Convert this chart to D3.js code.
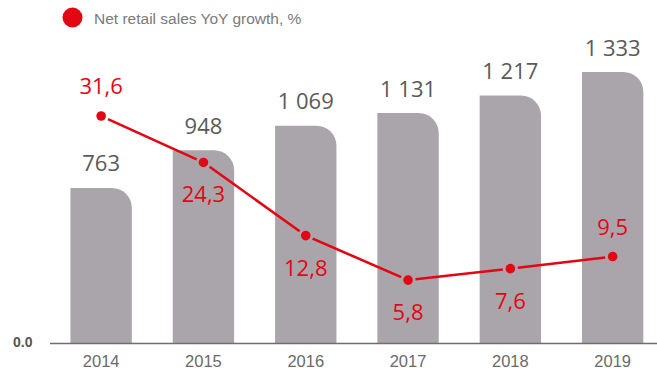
<!DOCTYPE html>
<html>
<head>
<meta charset="utf-8">
<script src="https://cdn.jsdelivr.net/npm/d3@7"></script>
<style>
  html, body { margin: 0; padding: 0; background: #fff; }
  svg { display: block; }
</style>
</head>
<body>
<svg id="chart" width="657" height="374"></svg>
<script>
// Net retail sales and year-on-year growth
const years = ["2014", "2015", "2016", "2017", "2018", "2019"];
const sales = [763, 948, 1069, 1131, 1217, 1333];
const sales_labels = ["763", "948", "1 069", "1 131", "1 217", "1 333"];
const growth = [31.6, 24.3, 12.8, 5.8, 7.6, 9.5];
const growth_labels = ["31,6", "24,3", "12,8", "5,8", "7,6", "9,5"];
// label above (1) or below (-1) the growth point
const growth_side = [1, -1, -1, -1, -1, 1];
const legend_label = "Net retail sales YoY growth, %";
const zero_label = "0.0";

const barColor = "#aaa5aa";
const red = "#e30613";
const valueGray = "#5a5a5a";

const svg = d3.select("#chart");

const x = d3.scaleBand()
  .domain(years)
  .range([50, 663.8])
  .paddingInner(0.4)
  .paddingOuter(0.2);

const y = d3.scaleLinear().domain([0, 1333]).range([343, 72]);
const y2 = d3.scaleLinear().domain([0, 31.6]).range([317, 116]);

const bw = x.bandwidth();
const r = 20;

// bars: square top-left corner, rounded top-right corner
function barPath(d, i) {
  const x0 = x(years[i]), x1 = x0 + bw;
  const y0 = y(0), yt = y(d);
  return `M${x0},${y0}V${yt}H${x1 - r}A${r},${r} 0 0 1 ${x1},${yt + r}V${y0}Z`;
}

svg.append("g").selectAll("path")
  .data(sales)
  .join("path")
  .attr("d", barPath)
  .attr("fill", barColor);

// baseline
svg.append("line")
  .attr("x1", 50).attr("x2", 657)
  .attr("y1", y(0) + 0.5).attr("y2", y(0) + 0.5)
  .attr("stroke", "#6e6e6e")
  .attr("stroke-width", 1.6);

svg.append("text")
  .attr("x", 13).attr("y", 347)
  .attr("font-family", "Liberation Sans, Arial, sans-serif")
  .attr("font-size", 14)
  .attr("font-weight", "bold")
  .attr("fill", "#555")
  .text(zero_label);

// x axis labels
const xAxis = d3.axisBottom(x).tickSize(0).tickPadding(0);
const gx = svg.append("g")
  .attr("transform", `translate(0,${y(0)})`)
  .call(xAxis);
gx.select(".domain").remove();
gx.selectAll("text")
  .attr("dy", null)
  .attr("y", 23.5)
  .attr("font-family", "Liberation Sans, Arial, sans-serif")
  .attr("font-size", 16.5)
  .attr("fill", "#6a6a6a");

// bar value labels
svg.append("g").selectAll("text")
  .data(sales)
  .join("text")
  .attr("x", (d, i) => x(years[i]) + bw / 2)
  .attr("y", d => y(d) - 16.5)
  .attr("text-anchor", "middle")
  .attr("font-family", "Open Sans, sans-serif")
  .attr("font-size", 22)
  .attr("fill", valueGray)
  .text((d, i) => sales_labels[i]);

// growth line: segments stop short of each marker
const cx = (d, i) => x(years[i]) + bw / 2;
const pts = growth.map((d, i) => [cx(d, i), y2(d)]);
const gap = 7.5;
const segs = d3.pairs(pts).map(([a, b]) => {
  const dx = b[0] - a[0], dy = b[1] - a[1];
  const len = Math.hypot(dx, dy);
  const ux = dx / len, uy = dy / len;
  return [[a[0] + ux * gap, a[1] + uy * gap], [b[0] - ux * gap, b[1] - uy * gap]];
});
const line = d3.line();

svg.append("g").selectAll("path")
  .data(segs)
  .join("path")
  .attr("d", line)
  .attr("fill", "none")
  .attr("stroke", red)
  .attr("stroke-width", 2.6);

svg.append("g").selectAll("circle")
  .data(growth)
  .join("circle")
  .attr("cx", cx)
  .attr("cy", d => y2(d))
  .attr("r", 4.8)
  .attr("fill", red);

svg.append("g").selectAll("text")
  .data(growth)
  .join("text")
  .attr("x", cx)
  .attr("y", (d, i) => y2(d) + (growth_side[i] > 0 ? -22 : 40))
  .attr("text-anchor", "middle")
  .attr("font-family", "Open Sans, sans-serif")
  .attr("font-size", 22)
  .attr("fill", red)
  .text((d, i) => growth_labels[i]);

// legend
svg.append("circle")
  .attr("cx", 72.5).attr("cy", 17.5).attr("r", 10)
  .attr("fill", red);
svg.append("text")
  .attr("x", 94).attr("y", 24)
  .attr("font-family", "Liberation Sans, Arial, sans-serif")
  .attr("font-size", 15.5)
  .attr("fill", "#7a7a7a")
  .text(legend_label);
</script>
</body>
</html>
